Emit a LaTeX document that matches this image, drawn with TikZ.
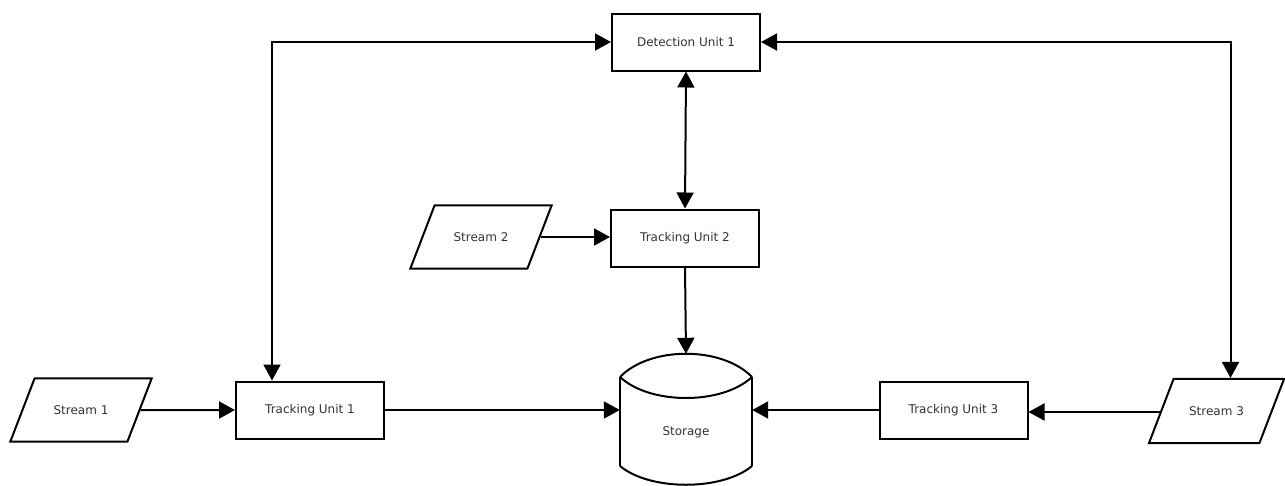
\documentclass[tikz,border=0pt]{standalone}
\usepackage{fontspec}
\setmainfont{DejaVu Sans}
\usetikzlibrary{shapes.geometric}
\usetikzlibrary{arrows.meta}
\tikzset{unit/.style={rectangle,draw=black,fill=white,line width=2pt,
minimum width=148pt, minimum height=57pt, inner sep=0pt,
text=black!80, font=\fontsize{12}{12}\selectfont},
stream/.style={unit,trapezium,trapezium left angle=69,trapezium right angle=111,
minimum width=0pt,minimum height=0pt,inner xsep=19pt,inner ysep=27pt},
store/.style={rectangle,inner sep=0pt,minimum width=132pt,minimum height=156pt,
text=black!80, font=\fontsize{12}{12}\selectfont},
link/.style={color=black, line width=2pt},
>={Triangle[length=16pt,width=17pt]}}
\begin{document}
\begin{tikzpicture}[x=1pt,y=-1pt]
  \useasboundingbox (0,0) rectangle (1285,485);
  \node (d1) [unit] at (686,42) {Detection Unit 1};
  \node (t2) [unit] at (685,238) {Tracking Unit 2};
  \node (t1) [unit] at (310,410) {Tracking Unit 1};
  \node (t3) [unit] at (953.5,410) {Tracking Unit 3};
  \node (s1) [stream] at (81,410) {Stream 1};
  \node (s2) [stream] at (481,237) {Stream 2};
  \node (s3) [stream,inner xsep=15.5pt,inner ysep=27.5pt] at (1216.5,411) {Stream 3};
  \node (st) [store] at (686,432) {Storage};
  % storage drum
  \draw [link] (620,377) -- (620,466) (752,377) -- (752,466);
  \draw [link] (620,377) .. controls (650,346) and (722,346) .. (752,377);
  \draw [link] (620,377) .. controls (650,405) and (722,405) .. (752,377);
  \draw [link] (620,466) .. controls (650,491) and (722,491) .. (752,466);
  % connections
  \draw [link,<->] (d1.west) -| ([xshift=-38pt]t1.north);
  \draw [link,<->] (d1.east) -| ([xshift=14pt]s3.north);
  \draw [link,<->] (d1.south) -- (t2.north);
  \draw [link,->] (s2.east) -- (s2.east -| t2.west);
  \draw [link,->] (t2.south) -- (st.north);
  \draw [link,->] (s1.east) -- (t1.west);
  \draw [link,->] (t1.east) -- (t1.east -| st.west);
  \draw [link,->] (t3.west) -- (t3.west -| st.east);
  \draw [link,->] ([yshift=-1pt]s3.west) -- ([yshift=-1pt]s3.west -| t3.east);
\end{tikzpicture}
\end{document}
